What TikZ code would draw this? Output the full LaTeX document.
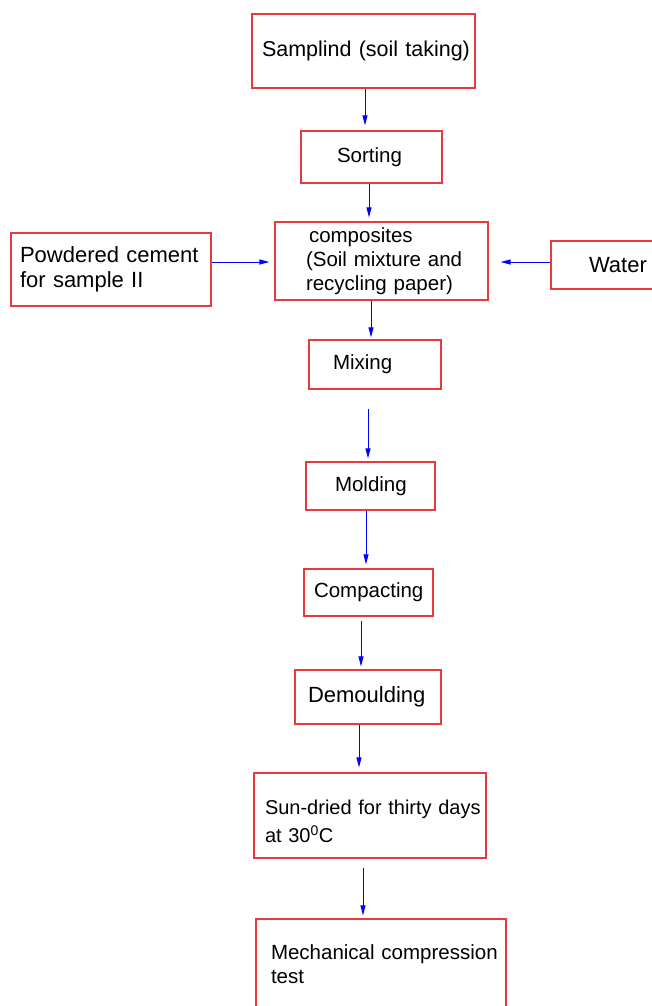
\documentclass[tikz,border=0pt]{standalone}
\usepackage{fontspec}
\setmainfont{Liberation Sans}
\usetikzlibrary{arrows.meta}
\definecolor{boxred}{RGB}{232,58,62}
\newcommand{\nohyph}{\hyphenpenalty=10000\exhyphenpenalty=10000\relax}

\begin{document}
\begin{tikzpicture}[x=1pt,y=-1pt,
  box/.style={draw=boxred,line width=1.2pt,align=left,inner ysep=0pt,
    font=\fontsize{20.5}{24}\selectfont\nohyph},
  arr/.style={draw=blue,line width=0.9pt,-{Triangle[length=10pt,width=5pt]}}]
  \useasboundingbox (0,0) rectangle (651,1006);
  \node[box,inner xsep=10pt,text width=203pt,minimum height=74pt,
    font=\fontsize{21.5}{25}\selectfont\nohyph] (samp) at (363.5,51) {\mbox{Samplind (soil taking)}};
  \node[box,inner xsep=36pt,text width=69pt,minimum height=52pt] (sort) at (371.5,157) {Sorting};
  \node[box,inner xsep=31pt,text width=151pt,minimum height=78pt] (comp) at (381.5,261)
    {\hspace*{3pt}composites\\\mbox{(Soil mixture and}\\\mbox{recycling paper)}};
  \node[box,inner xsep=9pt,text width=182pt,minimum height=73pt,
    font=\fontsize{22}{25}\selectfont\nohyph] (powd) at (111,269.5)
    {\mbox{Powdered cement}\\for sample II};
  \node[box,inner xsep=38pt,text width=60pt,minimum height=48pt,
    font=\fontsize{22}{25}\selectfont\nohyph] (water) at (619,265) {Water};
  \node[box,inner xsep=24pt,text width=84pt,minimum height=49pt] (mix) at (375,364.5) {Mixing};
  \node[box,inner xsep=29pt,text width=71pt,minimum height=48pt] (mold) at (370.5,486) {Molding};
  \node[box,inner xsep=10pt,text width=109pt,minimum height=47pt] (compac) at (368.5,592.5) {Compacting};
  \node[box,inner xsep=13pt,text width=120pt,minimum height=54pt,
    font=\fontsize{22}{25}\selectfont\nohyph] (demould) at (368,697) {Demoulding};
  \node[box,inner xsep=11pt,text width=210pt,minimum height=85pt,text depth=16pt,
    font=\fontsize{20}{24}\selectfont\nohyph] (dried) at (370,815.5)
    {\mbox{Sun-dried for thirty days}\\[4pt]at 30\textsuperscript{0}C};
  \node[box,inner xsep=15pt,text width=220pt,minimum height=91pt] (mech) at (381,964.5)
    {\mbox{Mechanical compression}\\test};
  % arrows
  \draw[arr,shorten >=5pt] ([xshift=1.5pt]samp.south) -- ([xshift=-6.5pt]sort.north);
  \draw[arr,shorten >=4pt] ([xshift=-2.5pt]sort.south) -- ([xshift=-12.5pt]comp.north);
  \draw[arr,shorten >=5pt] ([yshift=7.5pt]powd.east) -- ([yshift=-1pt]comp.west);
  \draw[arr,shorten >=12pt] ([yshift=3pt]water.west) -- ([yshift=-1pt]comp.east);
  \draw[arr,shorten >=2pt] ([xshift=-10.5pt]comp.south) -- ([xshift=-4pt]mix.north);
  \draw[arr,shorten <=19pt,shorten >=3pt] ([xshift=-7pt]mix.south) -- ([xshift=-2.5pt]mold.north);
  \draw[arr,shorten >=4pt] ([xshift=-4.5pt]mold.south) -- ([xshift=-2.5pt]compac.north);
  \draw[arr,shorten <=4pt,shorten >=3pt] ([xshift=-7.5pt]compac.south) -- ([xshift=-7pt]demould.north);
  \draw[arr,shorten >=5pt] ([xshift=-9pt]demould.south) -- ([xshift=-11pt]dried.north);
  \draw[arr,shorten <=9pt,shorten >=3pt] ([xshift=-7pt]dried.south) -- ([xshift=-18pt]mech.north);
\end{tikzpicture}
\end{document}
